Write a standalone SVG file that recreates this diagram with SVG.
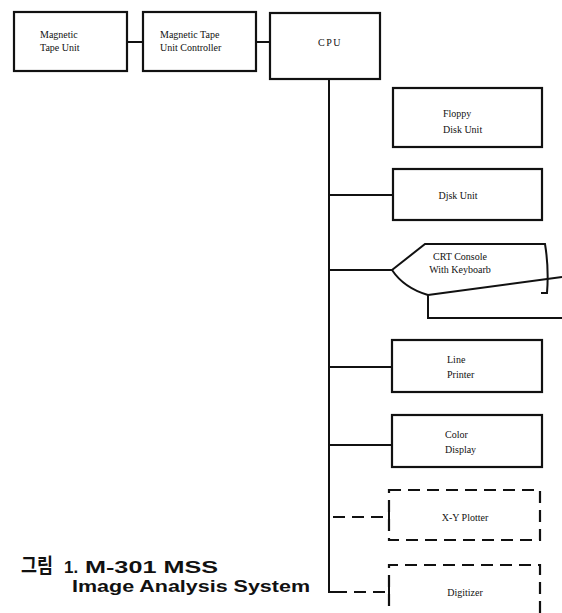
<svg xmlns="http://www.w3.org/2000/svg" width="562" height="613" viewBox="0 0 562 613">
<style>
.box{fill:#fff;stroke:#111;stroke-width:2.2}
.dbox{fill:#fff;stroke:#111;stroke-width:2.2;stroke-dasharray:12,7}
.ln{fill:none;stroke:#111;stroke-width:2}
.dln{fill:none;stroke:#111;stroke-width:2;stroke-dasharray:12,7}
.t{font-family:"Liberation Serif",serif;font-size:10px;fill:#111}
.c{text-anchor:middle}
.cap{font-family:"Liberation Sans","Noto Sans CJK KR",sans-serif;font-size:17px;font-weight:bold;fill:#111}
</style>
<rect width="562" height="613" fill="#fff"/>
<g id="connectors">
<line class="ln" x1="127" y1="42" x2="143" y2="42"/>
<line class="ln" x1="256" y1="42" x2="270" y2="42"/>
<polyline class="ln" points="329,79 329,592 335,592"/>
<line class="ln" x1="329" y1="195" x2="393" y2="195"/>
<line class="ln" x1="329" y1="270" x2="392" y2="270"/>
<line class="ln" x1="329" y1="367" x2="392" y2="367"/>
<line class="ln" x1="329" y1="445" x2="392" y2="445"/>
<line class="dln" x1="329" y1="517" x2="389" y2="517" stroke-dashoffset="-4"/>
<line class="dln" x1="335" y1="592" x2="389" y2="592"/>
</g>
<g id="mtu"><rect class="box" x="14" y="12" width="113" height="59"/>
<text class="t" x="40" y="38">Magnetic</text><text class="t" x="40" y="51">Tape Unit</text></g>
<g id="mtuc"><rect class="box" x="143" y="12" width="113" height="59"/>
<text class="t" x="160" y="38">Magnetic Tape</text><text class="t" x="160" y="51">Unit Controller</text></g>
<g id="cpu"><rect class="box" x="270" y="13" width="110" height="66"/>
<text class="t c" x="330" y="46" style="letter-spacing:1.5px">CPU</text></g>
<g id="floppy"><rect class="box" x="393" y="88" width="149" height="59"/>
<text class="t" x="443" y="117">Floppy</text><text class="t" x="443" y="133">Disk Unit</text></g>
<g id="disk"><rect class="box" x="393" y="169" width="149" height="51"/>
<text class="t c" x="458" y="199">Djsk Unit</text></g>
<g id="crt">
<path class="ln" d="M392,270 L425,244 L545,244 Q549,268 547,293 L541,293"/>
<path class="ln" d="M392,270 Q404,288 428,295"/>
<path class="ln" d="M428,295 L562,277"/>
<path class="ln" d="M428,295 L428,318 L562,318"/>
<text class="t c" x="460" y="260">CRT Console</text><text class="t c" x="460" y="273">With Keyboarb</text></g>
<g id="printer"><rect class="box" x="392" y="340" width="150" height="52"/>
<text class="t" x="447" y="363">Line</text><text class="t" x="447" y="378">Printer</text></g>
<g id="color"><rect class="box" x="392" y="415" width="150" height="52"/>
<text class="t" x="445" y="438">Color</text><text class="t" x="445" y="453">Display</text></g>
<g id="plotter"><rect class="dbox" x="389" y="490" width="151" height="50"/>
<line class="ln" x1="389" y1="510" x2="389" y2="524"/>
<text class="t c" x="465" y="521">X-Y Plotter</text></g>
<g id="digitizer"><path class="dbox" d="M389,625 L389,565 L540,565 L540,625"/>
<line class="ln" x1="389" y1="585" x2="389" y2="599"/>
<text class="t c" x="465" y="596">Digitizer</text></g>
<g id="caption">
<text class="cap" y="573"><tspan x="21" style="font-size:20px" textLength="32" lengthAdjust="spacingAndGlyphs">그림</tspan><tspan x="64">1.</tspan><tspan x="85" textLength="133" lengthAdjust="spacingAndGlyphs">M-301 MSS</tspan></text>
<text class="cap" x="72" y="592" textLength="238" lengthAdjust="spacingAndGlyphs">Image Analysis System</text>
</g>
</svg>
